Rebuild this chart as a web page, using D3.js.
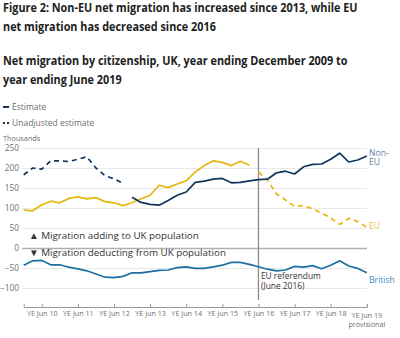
<!DOCTYPE html>
<html>
<head>
<meta charset="utf-8">
<script src="https://cdn.jsdelivr.net/npm/d3@7"></script>
<style>
  body { margin: 0; background: #fff; }
  svg { display: block; font-family: "Open Sans", sans-serif; }
</style>
</head>
<body>
<div id="chart"></div>
<script>
// quarterly periods, year ending Dec 2009 .. year ending Jun 2019
const quarters = [
  "YE Dec 09", "YE Mar 10", "YE Jun 10", "YE Sep 10", "YE Dec 10",
  "YE Mar 11", "YE Jun 11", "YE Sep 11", "YE Dec 11", "YE Mar 12",
  "YE Jun 12", "YE Sep 12", "YE Dec 12", "YE Mar 13", "YE Jun 13",
  "YE Sep 13", "YE Dec 13", "YE Mar 14", "YE Jun 14", "YE Sep 14",
  "YE Dec 14", "YE Mar 15", "YE Jun 15", "YE Sep 15", "YE Dec 15",
  "YE Mar 16", "YE Jun 16", "YE Sep 16", "YE Dec 16", "YE Mar 17",
  "YE Jun 17", "YE Sep 17", "YE Dec 17", "YE Mar 18", "YE Jun 18",
  "YE Sep 18", "YE Dec 18", "YE Mar 19", "YE Jun 19"
];
const tickQuarters = ["YE Jun 10", "YE Jun 11", "YE Jun 12", "YE Jun 13", "YE Jun 14",
  "YE Jun 15", "YE Jun 16", "YE Jun 17", "YE Jun 18", "YE Jun 19"];
const yTicks = [-100, -50, 0, 50, 100, 150, 200, 250];

const nonEuUnadjusted = [183, 200, 197, 218, 218, 216, 222, 228, 200, 181, 173, 162,
  null, null, null, null, null, null, null, null, null, null, null, null, null, null,
  null, null, null, null, null, null, null, null, null, null, null, null, null];
const nonEu = [null, null, null, null, null, null, null, null, null, null, null, null,
  127, 114, 109, 107, 119, 132, 140, 164, 167, 172, 174, 163, 164, 168,
  171, 172, 188, 192, 185, 203, 209, 210, 222, 237, 215, 220, 230];
const eu = [95, 93, 108, 117, 113, 124, 128, 123, 126, 116, 113, 106, 113, 123, 132,
  157, 151, 160, 168, 190, 206, 218, 214, 206, 217, 207,
  null, null, null, null, null, null, null, null, null, null, null, null, null];
const euDashed = [null, null, null, null, null, null, null, null, null, null, null, null,
  null, null, null, null, null, null, null, null, null, null, null, null, null, null,
  190, 170, 135, 120, 104, 106, 98, 87, 75, 59, 74, 66, 52];
const british = [-43, -32, -31, -42, -42, -48, -52, -57, -65, -73, -74, -71, -62, -62,
  -59, -56, -55, -49, -47, -51, -51, -47, -43, -36, -36, -41, -47, -53, -57, -55,
  -46, -48, -44, -52, -43, -32, -45, -51, -62];

const navy = "#12355b";
const yellow = "#e8b50c";
const blue = "#1b6fa3";
const grey = "#707070";

const width = 400, height = 338;
const svg = d3.select("#chart").append("svg")
  .attr("width", width)
  .attr("height", height)
  .attr("viewBox", [0, 0, width, height]);

// titles (squeezed horizontally to the reference width)
function titleBlock(lines, y0, lh, size, fitWidth) {
  const g = svg.append("g");
  const texts = g.selectAll("text")
    .data(lines)
    .join("text")
    .attr("x", 0)
    .attr("y", (d, i) => y0 + i * lh)
    .attr("font-size", size)
    .attr("font-weight", 700)
    .attr("fill", "#222")
    .text((d) => d);
  const len = texts.node().getComputedTextLength();
  const k = fitWidth / len;
  g.attr("transform", `translate(3,0) scale(${k},1)`);
}
titleBlock(["Figure 2: Non-EU net migration has increased since 2013, while EU",
  "net migration has decreased since 2016"], 11.6, 19, 11.5, 355);
titleBlock(["Net migration by citizenship, UK, year ending December 2009 to",
  "year ending June 2019"], 64.8, 19, 11.5, 345);

// legend
const legend = svg.append("g").attr("font-size", 8.5).attr("fill", grey);
legend.append("line").attr("x1", 3).attr("x2", 9).attr("y1", 107).attr("y2", 107)
  .attr("stroke", navy).attr("stroke-width", 2);
legend.append("text").attr("x", 12).attr("y", 107).attr("dy", "0.35em").text("Estimate");
legend.append("line").attr("x1", 3).attr("x2", 9).attr("y1", 123).attr("y2", 123)
  .attr("stroke", navy).attr("stroke-width", 2).attr("stroke-dasharray", "2,2");
legend.append("text").attr("x", 12).attr("y", 123).attr("dy", "0.35em").text("Unadjusted estimate");

svg.append("text").attr("x", 3).attr("y", 138.5).attr("dy", "0.35em")
  .attr("font-size", 7.3).attr("fill", grey).text("Thousands");

// scales
const x = d3.scalePoint(quarters, [23.7, 366.8]);
const y = d3.scaleLinear([-150, 260], [308, 144]);

// grid + y axis
svg.append("g")
  .attr("transform", "translate(22,0)")
  .call(d3.axisLeft(y).tickValues(yTicks).tickSize(-345).tickPadding(3))
  .call((g) => g.select(".domain").remove())
  .call((g) => g.selectAll(".tick line")
    .attr("stroke", (d) => d === 0 ? "#b0b0b0" : "#e8e8e8")
    .attr("stroke-width", (d) => d === 0 ? 1.3 : 1))
  .call((g) => g.selectAll(".tick text")
    .attr("font-size", 8.3).attr("fill", grey).attr("font-family", "Open Sans"));

// x axis
svg.append("g")
  .attr("transform", "translate(0,307)")
  .call(d3.axisBottom(x).tickValues(tickQuarters).tickSize(-3).tickSizeOuter(-3)
    .tickFormat((d) => d === "YE Jun 19" ? "" : d))
  .call((g) => g.select(".domain").attr("stroke", "#9a9a9a"))
  .call((g) => g.selectAll(".tick line").attr("stroke", "#9a9a9a"))
  .call((g) => g.selectAll(".tick text")
    .attr("y", 4).attr("font-size", 7.2).attr("fill", grey).attr("font-family", "Open Sans"));

svg.append("g").attr("font-size", 7.2).attr("fill", grey).attr("text-anchor", "middle")
  .selectAll("text")
  .data(["YE Jun 19", "provisional"])
  .join("text")
  .attr("x", x("YE Jun 19"))
  .attr("y", (d, i) => 317.5 + i * 9)
  .text((d) => d);

// referendum line
svg.append("line")
  .attr("x1", x("YE Jun 16")).attr("x2", x("YE Jun 16"))
  .attr("y1", 148).attr("y2", 300)
  .attr("stroke", "#8c8c8c").attr("stroke-width", 1.3);
svg.append("g").attr("font-size", 8.4).attr("fill", "#333")
  .selectAll("text")
  .data(["EU referendum", "(June 2016)"])
  .join("text")
  .attr("x", x("YE Jun 16") + 2.5)
  .attr("y", (d, i) => 276.5 + i * 10)
  .attr("dy", "0.35em")
  .text((d) => d);

// annotations
svg.append("g").attr("font-size", 9.8).attr("fill", "#333")
  .selectAll("text")
  .data(["\u25B2 Migration adding to UK population", "\u25BC Migration deducting from UK population"])
  .join("text")
  .attr("x", 29)
  .attr("y", (d, i) => 235.5 + i * 16.8)
  .attr("dy", "0.35em")
  .text((d) => d);

// lines
const line = d3.line()
  .defined((d) => d != null)
  .x((d, i) => x(quarters[i]))
  .y((d) => y(d));

const series = [
  { values: british, color: blue, dash: null },
  { values: eu, color: yellow, dash: null },
  { values: euDashed, color: yellow, dash: "5,4" },
  { values: nonEuUnadjusted, color: navy, dash: "5,4" },
  { values: nonEu, color: navy, dash: null }
];
svg.append("g")
  .selectAll("path")
  .data(series)
  .join("path")
  .attr("d", (s) => line(s.values))
  .attr("fill", "none")
  .attr("stroke", (s) => s.color)
  .attr("stroke-width", 1.7)
  .attr("stroke-dasharray", (s) => s.dash)
  .attr("stroke-linejoin", "round");

// series labels (one text each, wrapped with tspans)
const labels = [
  { lines: ["Non-", "EU"], y: 152.5, color: "#5f7f9e" },
  { lines: ["EU"], y: 226, color: "#ebc34a" },
  { lines: ["British"], y: 280, color: "#3a8cc0" }
];
labels.forEach((l) => {
  svg.append("text")
    .attr("font-size", 8.6)
    .attr("fill", l.color)
    .attr("y", l.y)
    .attr("dy", "0.35em")
    .selectAll("tspan")
    .data(l.lines)
    .join("tspan")
    .attr("x", 369)
    .attr("dy", (d, i) => i === 0 ? "0.35em" : 9.6)
    .text((d) => d);
});
</script>
</body>
</html>
